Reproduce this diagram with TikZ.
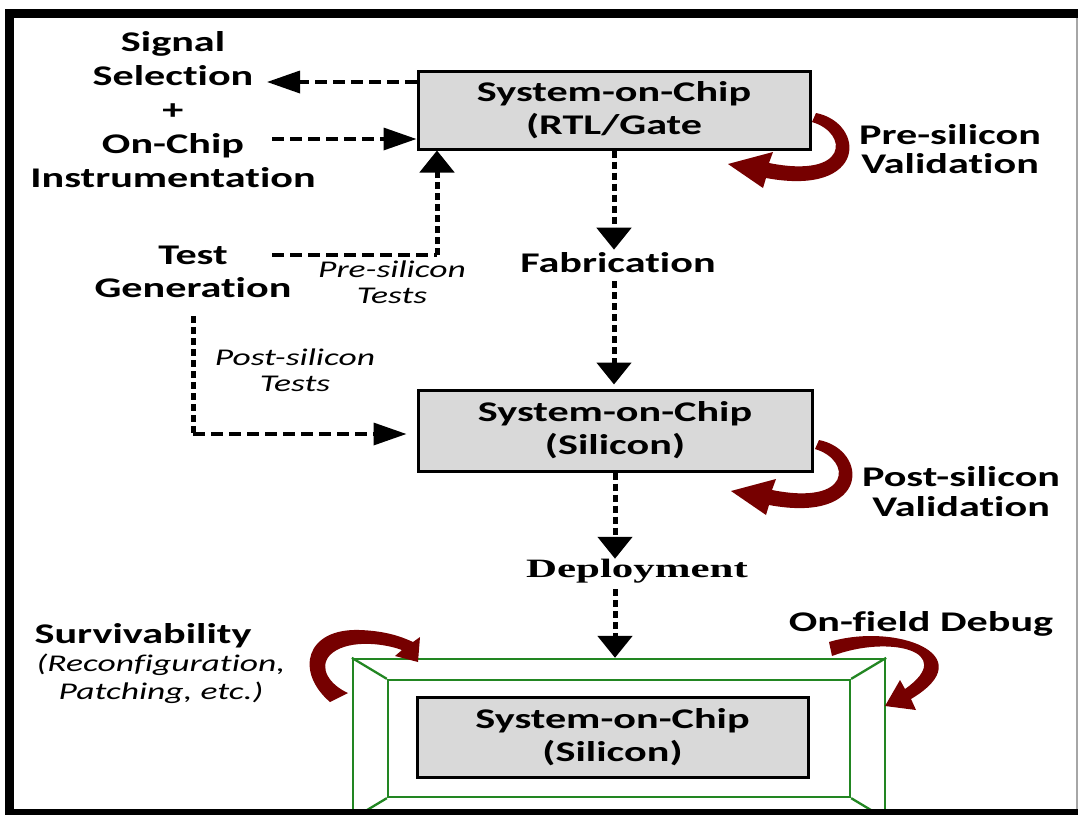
\documentclass[tikz,border=0pt]{standalone}
\usepackage{fontspec}
\setmainfont{Carlito}[FakeStretch=1.48, Ligatures=NoCommon]
\newfontfamily\serifbold{Liberation Serif}[FakeStretch=1.62]
\usetikzlibrary{arrows.meta}
\definecolor{socgray}{RGB}{217,217,217}
\definecolor{loopred}{RGB}{118,0,0}
\definecolor{shellgreen}{RGB}{34,134,34}

\tikzset{
  pics/curl/.style={code={
    \fill[loopred] (16,-32) .. controls (66,-22) and (68,52) .. (-34,33)
      -- (-37,43) -- (-72,19) -- (-27,7) -- (-31,18)
      .. controls (49,34) and (49,-12) .. (12,-23) -- cycle;
  }}
}

\begin{document}
\begin{tikzpicture}[x=1pt,y=-1pt,
  lbl/.style={font=\fontsize{28.5}{33}\selectfont\bfseries, align=center, inner sep=0pt},
  itl/.style={font=\fontsize{24}{26}\selectfont\itshape, align=center, inner sep=0pt},
  socbox/.style={draw=black, line width=3pt, fill=socgray, align=center,
    inner sep=0pt, font=\fontsize{28.5}{33}\selectfont\bfseries},
  hdash/.style={line width=3.5pt, dash pattern=on 12pt off 6pt},
  vdash/.style={line width=5pt, dash pattern=on 7pt off 4pt},
  harrow/.style={-{Triangle[length=33pt,width=22pt]}},
  varrow/.style={-{Triangle[length=22pt,width=34pt]}},
  shell/.style={draw=shellgreen, line width=2.3pt, inner sep=0pt},
]
\useasboundingbox (0,0) rectangle (1078,814);
\clip (0,0) rectangle (1078,814);

% deployed chip inside its protective shell
\node[shell, minimum width=532pt, minimum height=159pt] (outerG) at (619,738.5) {};
\node[shell, minimum width=462pt, minimum height=117pt] (innerG) at (619,738.5) {};
\draw[shell] (outerG.north west) -- (innerG.north west);
\draw[shell] (outerG.north east) -- (innerG.north east);
\draw[shell] (outerG.south west) -- (innerG.south west);
\draw[shell] (outerG.south east) -- (innerG.south east);

% the three stages of the chip
\node[socbox, minimum width=392pt, minimum height=78pt] (rtl) at (614,110) {System-on-Chip\\(RTL/Gate};
\node[socbox, minimum width=394pt, minimum height=81pt] (si) at (615,430.5) {System-on-Chip\\(Silicon)};
\node[socbox, minimum width=391pt, minimum height=80pt] (field) at (612.5,737) {System-on-Chip\\(Silicon)};

% labels
\node[lbl, font=\fontsize{28.5}{34}\selectfont\bfseries] (sig) at (173,110) {Signal\\Selection\\+\\On-Chip\\Instrumentation};
\node[lbl] (tg) at (193,272) {Test\\Generation};
\node[itl] (pret) at (392,282) {Pre-silicon\\Tests};
\node[itl] (postt) at (295,370) {Post-silicon\\Tests};
\node[lbl] (fab) at (618,263) {Fabrication};
\node[inner sep=0pt, font={\serifbold\fontsize{26.5}{30}\selectfont\bfseries}] (dep) at (637,571) {Deployment};
\node[lbl, font=\fontsize{28.5}{29}\selectfont\bfseries] (prev) at (950,149) {Pre-silicon\\Validation};
\node[lbl, font=\fontsize{28.5}{30}\selectfont\bfseries] (postv) at (961,492) {Post-silicon\\Validation};
\node[lbl] (surv) at (143,636) {Survivability};
\node[itl, font=\fontsize{24}{28}\selectfont\itshape] (recon) at (161,679) {(Reconfiguration,\\Patching, etc.)};
\node[lbl] (dbg) at (921,624) {On-field Debug};

% curved validation loops
\pic at (800,145) {curl};
\pic at (803,472) {curl};
% survivability loop
\fill[loopred] (330,702) .. controls (295,672) and (305,628) .. (360,630)
  .. controls (385,631) and (400,636) .. (413,642)
  -- (420,637) -- (418,662) -- (395,656) -- (402,650)
  .. controls (380,642) and (345,640) .. (330,655)
  .. controls (318,668) and (330,685) .. (348,693) -- cycle;
% on-field debug loop
\fill[loopred] (829,642) .. controls (895,622) and (985,655) .. (911,699)
  -- (916,710) -- (885,706) -- (900,680) -- (905,689)
  .. controls (958,652) and (890,634) .. (832,656) -- cycle;

% instrumentation links
\coordinate (selTip) at (267,82);
\coordinate (instTail) at (272,139);
\draw[hdash, harrow] (rtl.west |- selTip) -- (selTip);
\draw[hdash, harrow] (instTail) -- (rtl.west |- instTail);

% test paths
\coordinate (preTail) at (272,255);
\coordinate (preBend) at (437,255);
\draw[hdash] (preTail) -- (preBend);
\draw[vdash, varrow] (preBend) -- (preBend |- rtl.south);
\coordinate (postTail) at (193,316);
\coordinate (postBend) at (193,434);
\draw[vdash] (postTail) -- (postBend);
\draw[hdash, harrow, shorten >=10pt] (postBend) -- (postBend -| si.west);

% main flow
\draw[vdash, varrow, shorten >=3pt] (rtl.south) -- (rtl.south |- fab.north);
\draw[vdash, varrow, shorten <=8pt, shorten >=4pt] (rtl.south |- fab.south) -- (rtl.south |- si.north);
\draw[vdash, varrow] (si.south) -- (si.south |- dep.north);
\draw[vdash, varrow, shorten <=6pt] (si.south |- dep.south) -- (si.south |- outerG.north);

% page frame
\draw[line width=9pt] (9.5,13.5) rectangle (1095,813.5);
\draw[black!35, line width=1.2pt] (1077,18) -- (1077,809);
\end{tikzpicture}
\end{document}
